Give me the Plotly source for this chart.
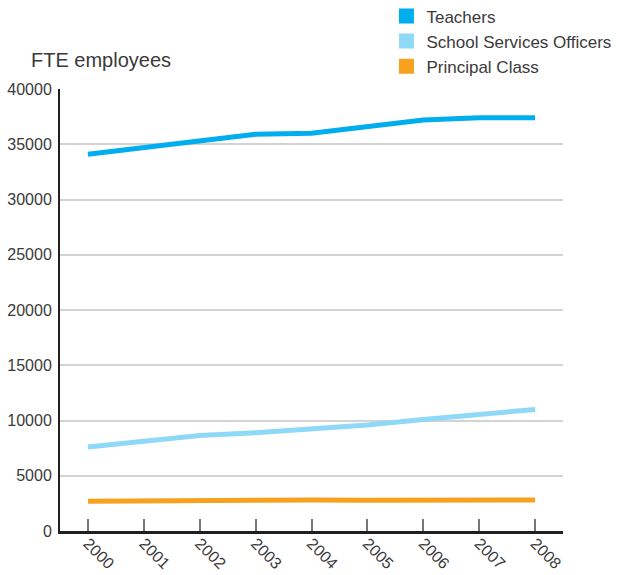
import plotly.graph_objects as go

years = ["2000", "2001", "2002", "2003", "2004", "2005", "2006", "2007", "2008"]
teachers = [34100, 34700, 35300, 35900, 36000, 36600, 37200, 37400, 37400]
school_services = [7600, 8150, 8650, 8900, 9200, 9600, 10100, 10550, 11000]
principal_class = [2700, 2750, 2760, 2800, 2800, 2790, 2820, 2800, 2810]

series = [
    ("Teachers", teachers, "#00aeef"),
    ("School Services Officers", school_services, "#8fd9f8"),
    ("Principal Class", principal_class, "#f7a11f"),
]

FONT = "Liberation Sans"
TEXT = "#3a3a3a"

fig = go.Figure()

# data lines
for name, vals, color in series:
    fig.add_trace(go.Scatter(
        x=years, y=vals, mode="lines", name=name,
        line=dict(color=color, width=5),
        showlegend=False, hoverinfo="x+y",
    ))

# square legend swatches
for name, vals, color in series:
    fig.add_trace(go.Scatter(
        x=[None], y=[None], mode="markers", name=name,
        marker=dict(symbol="square", size=15, color=color),
        showlegend=True,
    ))

fig.update_layout(
    width=622, height=575,
    margin=dict(l=60, r=59, t=89, b=44, autoexpand=False),
    paper_bgcolor="white", plot_bgcolor="white",
    font=dict(family=FONT, size=16, color=TEXT),
    showlegend=True,
    legend=dict(
        x=0.649, y=1.205, xanchor="left", yanchor="top",
        font=dict(family=FONT, size=17, color=TEXT),
        itemwidth=30, tracegroupgap=0,
        bgcolor="rgba(0,0,0,0)",
    ),
    annotations=[dict(
        text="FTE employees", xref="paper", yref="paper",
        x=-0.062, y=1.037, xanchor="left", yanchor="bottom",
        showarrow=False, font=dict(family=FONT, size=20, color=TEXT),
    )],
)

fig.update_xaxes(
    type="category", range=[-0.5, 8.5],
    showgrid=False, zeroline=False,
    showline=True, linecolor="#231f20", linewidth=3,
    ticks="inside", ticklen=12, tickcolor="#777777", tickwidth=1.5,
    tickangle=45, ticklabelstandoff=-6,
    tickfont=dict(family=FONT, size=16, color=TEXT),
)

fig.update_yaxes(
    range=[0, 40000], dtick=5000, tickformat="d",
    showgrid=True, gridcolor="#d3d3d3", gridwidth=2,
    zeroline=False,
    showline=True, linecolor="#231f20", linewidth=2,
    ticks="", ticklabelstandoff=3,
    tickfont=dict(family=FONT, size=16, color=TEXT),
)

fig.write_html("out.html")
